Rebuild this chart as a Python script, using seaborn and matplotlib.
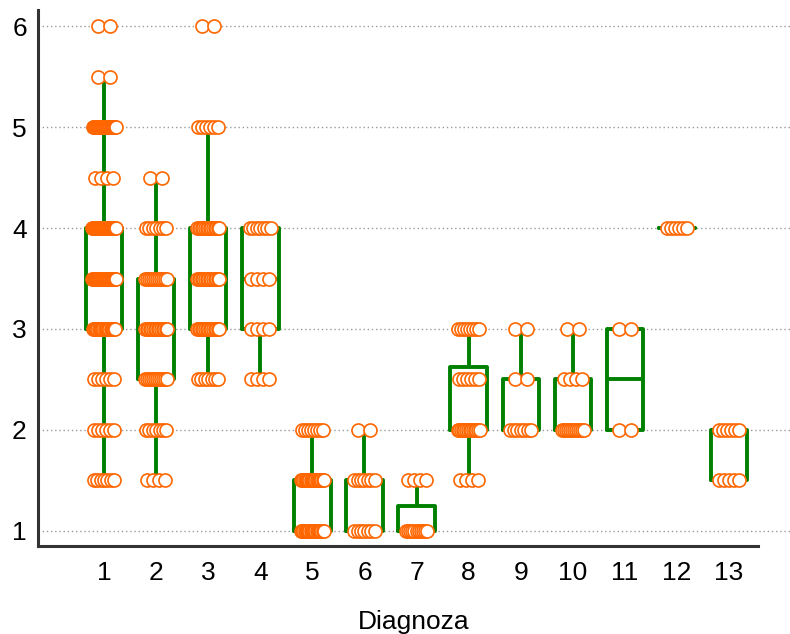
import numpy as np
import pandas as pd
import matplotlib
matplotlib.use("Agg")
import matplotlib.pyplot as plt
import seaborn as sns

# Diagnosis groups and the score levels that were recorded
groups = ["1", "2", "3", "4", "5", "6", "7", "8", "9", "10", "11", "12", "13"]
levels = [1.0, 1.5, 2.0, 2.5, 3.0, 3.5, 4.0, 4.5, 5.0, 5.5, 6.0]

# Number of patients at each score level, one row per diagnosis group
counts = [
    [0, 7, 6, 6, 20, 32, 35, 4, 25, 2, 2],   # 1
    [0, 4, 7, 12, 15, 12, 7, 2, 0, 0, 0],    # 2
    [0, 0, 0, 7, 15, 15, 15, 0, 6, 0, 2],    # 3
    [0, 0, 0, 4, 4, 4, 7, 0, 0, 0, 0],       # 4
    [20, 20, 8, 0, 0, 0, 0, 0, 0, 0, 0],     # 5
    [7, 7, 2, 0, 0, 0, 0, 0, 0, 0, 0],       # 6
    [11, 4, 0, 0, 0, 0, 0, 0, 0, 0, 0],      # 7
    [0, 4, 14, 6, 8, 0, 0, 0, 0, 0, 0],      # 8
    [0, 0, 7, 2, 2, 0, 0, 0, 0, 0, 0],       # 9
    [0, 0, 12, 4, 2, 0, 0, 0, 0, 0, 0],      # 10
    [0, 0, 2, 0, 2, 0, 0, 0, 0, 0, 0],       # 11
    [0, 0, 0, 0, 0, 0, 6, 0, 0, 0, 0],       # 12
    [0, 5, 6, 0, 0, 0, 0, 0, 0, 0, 0],       # 13
]

# Expand the count table into one row per patient
rows = []
spread = 0.46  # horizontal band used to fan out tied points
for gi, (g, row) in enumerate(zip(groups, counts)):
    for lv, n in zip(levels, row):
        for k in range(n):
            off = (k + 0.5) / n * spread - spread / 2
            rows.append({"Diagnoza": g, "value": lv, "xpos": gi + off})
df = pd.DataFrame(rows)

sns.set_style("white")
plt.rcParams["font.family"] = ["Liberation Sans", "DejaVu Sans"]
plt.rcParams["text.color"] = "black"
plt.rcParams["axes.labelcolor"] = "black"

fig = plt.figure(figsize=(7.9, 6.34), dpi=100)
ax = fig.add_axes([0.048, 0.139, 0.952, 0.845])

sns.boxplot(
    data=df, x="Diagnoza", y="value", order=groups, ax=ax,
    width=0.7, whis=1.5, showcaps=False, showfliers=False, fill=False,
    color="#008000", linewidth=2.8,
)

sns.scatterplot(
    data=df, x="xpos", y="value", ax=ax, s=88, marker="o",
    facecolor="white", edgecolor="#ff6600", linewidth=1.2, zorder=5,
    legend=False,
)

ax.set_xlim(-1.27, 13.17)
ax.set_ylim(0.85, 6.16)
ax.set_yticks([1, 2, 3, 4, 5, 6])
ax.set_yticklabels(["1", "2", "3", "4", "5", "6"])
ax.set_xticks(range(len(groups)))
ax.set_xticklabels(groups)

ax.yaxis.grid(True, linestyle=(0, (1, 2)), color="#999999", linewidth=1.0)
ax.xaxis.grid(False)
ax.set_axisbelow(True)

for side in ("top", "right"):
    ax.spines[side].set_visible(False)
for side in ("left", "bottom"):
    ax.spines[side].set_color("#333333")
    ax.spines[side].set_linewidth(2.2)
ax.spines["bottom"].set_bounds(-1.27, 12.55)

ax.tick_params(axis="both", direction="in", length=7, width=2, color="#333333",
               labelsize=19, labelcolor="black")
ax.tick_params(axis="y", pad=8)
ax.tick_params(axis="x", pad=11)

ax.set_xlabel("Diagnoza", fontsize=19, labelpad=18, color="black")
ax.set_ylabel("")

fig.savefig("out.png", dpi=100)
